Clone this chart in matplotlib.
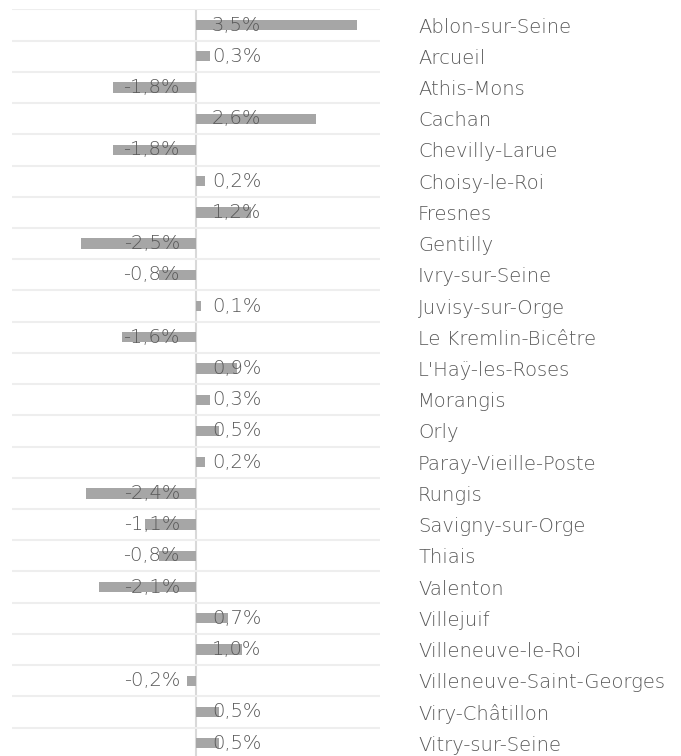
import matplotlib
matplotlib.use("Agg")
import matplotlib.pyplot as plt
import numpy as np

communes = ["Ablon-sur-Seine", "Arcueil", "Athis-Mons", "Cachan", "Chevilly-Larue",
            "Choisy-le-Roi", "Fresnes", "Gentilly", "Ivry-sur-Seine", "Juvisy-sur-Orge",
            "Le Kremlin-Bicêtre", "L'Haÿ-les-Roses", "Morangis", "Orly",
            "Paray-Vieille-Poste", "Rungis", "Savigny-sur-Orge", "Thiais", "Valenton",
            "Villejuif", "Villeneuve-le-Roi", "Villeneuve-Saint-Georges",
            "Viry-Châtillon", "Vitry-sur-Seine"]
evolution = [3.5, 0.3, -1.8, 2.6, -1.8, 0.2, 1.2, -2.5, -0.8, 0.1, -1.6, 0.9, 0.3, 0.5,
             0.2, -2.4, -1.1, -0.8, -2.1, 0.7, 1.0, -0.2, 0.5, 0.5]

plt.rcParams['font.family'] = ['DejaVu Sans']
W, H = 681, 756
fig = plt.figure(figsize=(W / 100, H / 100), dpi=100)
top_px = 9.4
ax = fig.add_axes([12 / W, 0, (380 - 12) / W, 1 - top_px / H])

y = np.arange(len(communes))
ax.barh(y, evolution, height=0.33, color="#a6a6a6", zorder=2)
ax.set_xlim(-4.0, 4.0)
ax.set_ylim(23.41, -0.5)

FS = 14
WT = 200
ax.set_yticks(y)
ax.set_yticklabels(communes)
ax.yaxis.tick_right()
ax.tick_params(axis='y', length=0, pad=27.4, labelsize=FS, labelcolor="#595959")
ax.set_xticks([])
ax.set_yticks(np.arange(-0.5, 23.5, 1), minor=True)
ax.tick_params(axis='y', which='minor', length=0)
ax.grid(True, which='minor', axis='y', color="#eeeeee", lw=1.5, zorder=0)
ax.axvline(0, color="#d9d9d9", lw=1.5, zorder=1)
for s in ax.spines.values():
    s.set_visible(False)

for i, v in enumerate(evolution):
    txt = f"{v:.1f}%".replace(".", ",")
    off = 11.5 if v >= 0 else -11.5
    ax.annotate(txt, xy=(0, i), xytext=(off, 0), textcoords='offset points',
                ha='left' if v >= 0 else 'right', va='center',
                fontsize=FS, color="#595959", fontweight=WT, zorder=3)

for lab in ax.get_yticklabels():
    lab.set_fontweight(WT)

fig.savefig("out.png", dpi=100)
